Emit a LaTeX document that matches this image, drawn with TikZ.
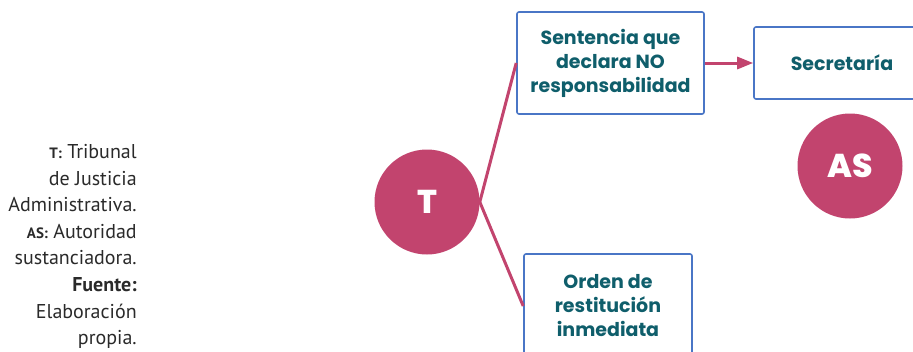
\documentclass[tikz,border=0pt]{standalone}
\usepackage{fontspec}
\setmainfont{PT Sans}
\newfontfamily\boxfont{Poppins}
\newfontfamily\actorfont{Poppins}[UprightFont=* ExtraBold]
\usetikzlibrary{arrows.meta,positioning}
\definecolor{trired}{HTML}{C2446E}
\definecolor{boxteal}{HTML}{0F5E6B}
\definecolor{boxblue}{HTML}{4A76C6}
\definecolor{legendgray}{HTML}{2A2A2A}

\begin{document}
\begin{tikzpicture}[x=1pt,y=-1pt,semithick]
  \tikzstyle{box}=[draw=boxblue,line width=1.6pt,rounded corners=2pt,fill=white,align=center,text=boxteal,inner sep=0pt,font=\boxfont\bfseries\fontsize{19}{24}\selectfont]
  \tikzstyle{actor}=[circle,fill=trired,text=white,minimum size=105pt,inner sep=0pt,font=\actorfont\fontsize{33}{33}\selectfont]
  \tikzstyle{legend}=[align=right,text=legendgray,inner sep=0pt,font=\fontsize{20}{26.6}\selectfont]
  \tikzstyle{link}=[draw=trired,line width=3pt]

  \useasboundingbox (0,0) rectangle (913,351);

  \node[actor] (T)  at (427,202) {T};
  \node[actor] (AS) at (850,166) {AS};
  \node[box,minimum width=187pt,minimum height=102pt] (S)   at (610.5,63) {Sentencia que\\declara NO\\responsabilidad};
  \node[box,minimum width=168pt,minimum height=104pt] (O)   at (608,306)  {Orden de\\restitución\\inmediata};
  \node[box,minimum width=176pt,minimum height=72pt]  (Sec) at (842,63)   {Secretaría};
  \node[legend,anchor=north east] (L) at (137,144)
    {{\fontsize{15}{15}\selectfont\bfseries T:} Tribunal\\de Justicia\\Administrativa.\\
     {\fontsize{15}{15}\selectfont\bfseries AS:} Autoridad\\sustanciadora.\\
     \textbf{Fuente:}\\Elaboración\\propia.};

  \path[link] (T.east) edge (S.west)
              (T.east) edge (O.west);
  \draw[link,-{Triangle[length=16pt,width=12pt]}] (S.east) -- (Sec.west);
\end{tikzpicture}
\end{document}
